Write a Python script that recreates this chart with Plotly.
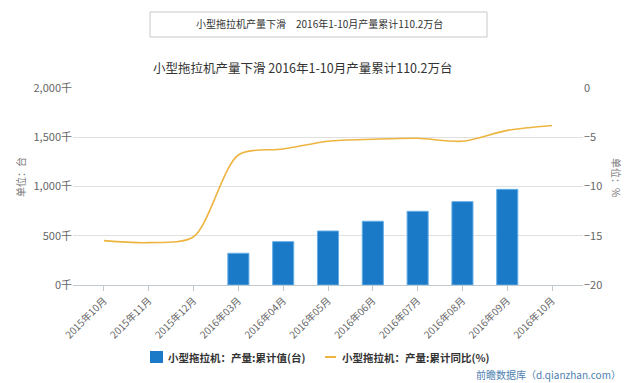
import plotly.graph_objects as go

categories = ["2015年10月", "2015年11月", "2015年12月", "2016年03月", "2016年04月",
              "2016年05月", "2016年06月", "2016年07月", "2016年08月", "2016年09月", "2016年10月"]
cum_values = [None, None, None, 322, 440, 548, 647, 748, 846, 971, None]
yoy_values = [-15.5, -15.7, -15.1, -6.8, -6.2, -5.4, -5.2, -5.1, -5.4, -4.3, -3.8]
left_ticks = [0, 500, 1000, 1500, 2000]
left_labels = ["0千", "500千", "1,000千", "1,500千", "2,000千"]
right_ticks = [-20, -15, -10, -5, 0]
bar_name = "小型拖拉机：产量:累计值(台)"
line_name = "小型拖拉机：产量:累计同比(%)"

FONT = "Noto Sans CJK SC, Microsoft YaHei, sans-serif"
W, H = 640, 383
L, R, T, B = 73, 583, 88, 285
BAR_COLOR = "#1a7ac8"
LINE_COLOR = "#eeb440"

def px(x):
    return (x - L) / (R - L)

def py(y):
    return (B - y) / (B - T)

fig = go.Figure()
fig.add_trace(go.Bar(
    x=categories, y=cum_values, name=bar_name,
    marker=dict(color=BAR_COLOR, line=dict(color="#63ade6", width=1)),
    width=0.47, yaxis="y", showlegend=False,
))
fig.add_trace(go.Scatter(
    x=categories, y=yoy_values, name=line_name,
    mode="lines", line=dict(color=LINE_COLOR, width=1.6, shape="spline", smoothing=0.8),
    yaxis="y2", showlegend=False,
))

fig.update_layout(
    width=W, height=H,
    margin=dict(l=L, r=W - R, t=T, b=H - B),
    paper_bgcolor="white", plot_bgcolor="white",
    font=dict(family=FONT, color="#666666", size=11),
    showlegend=False,
    xaxis=dict(
        type="category", range=[-0.69, 10.69],
        tickangle=-45, tickfont=dict(size=10, color="#666666"),
        showgrid=False, showline=True, linecolor="#c0c8d0", linewidth=1,
        ticks="outside", ticklen=5, tickcolor="#c0c8d0", automargin=False,
    ),
    yaxis=dict(
        range=[0, 2000], tickvals=left_ticks, ticktext=left_labels,
        showgrid=True, gridcolor="#e0e0e0", gridwidth=1, zeroline=False,
        tickfont=dict(size=11, color="#666666"), ticks="", showline=False, automargin=False,
    ),
    yaxis2=dict(
        range=[-20, 0], tickvals=right_ticks, overlaying="y", side="right",
        showgrid=False, zeroline=False, automargin=False,
        tickfont=dict(size=11, color="#666666"), ticks="", showline=False,
    ),
)

def note(text, x, y, size, color, xanchor="center", angle=0):
    fig.add_annotation(text=text, xref="paper", yref="paper", x=px(x), y=py(y),
                       xanchor=xanchor, yanchor="middle", textangle=angle,
                       showarrow=False, font=dict(size=size, color=color))

# header box and titles
fig.add_shape(type="rect", xref="paper", yref="paper",
              x0=px(150), x1=px(487), y0=py(37), y1=py(12),
              line=dict(color="#c8c8c8", width=1), fillcolor="white")
note("小型拖拉机产量下滑　2016年1-10月产量累计110.2万台", 319, 24, 10, "#333333")
note("小型拖拉机产量下滑 2016年1-10月产量累计110.2万台", 302, 68, 12.5, "#333333")
note("单位：台", 20, 177, 10, "#777777", angle=-90)
note("单位：%", 617, 177, 10, "#777777", angle=90)
note("前瞻数据库（d.qianzhan.com）", 623, 374, 10, "#4f7fb0", xanchor="right")

# custom legend
fig.add_shape(type="rect", xref="paper", yref="paper",
              x0=px(150), x1=px(163), y0=py(363), y1=py(351),
              line=dict(width=0), fillcolor=BAR_COLOR)
note("<b>" + bar_name + "</b>", 166, 357, 10.5, "#333333", xanchor="left")
fig.add_shape(type="line", xref="paper", yref="paper",
              x0=px(325), x1=px(336), y0=py(357), y1=py(357),
              line=dict(color=LINE_COLOR, width=2))
note("<b>" + line_name + "</b>", 340, 357, 10.5, "#333333", xanchor="left")

fig.write_html("out.html", config={"displayModeBar": False},
               post_script="document.body.style.margin='0px';")
